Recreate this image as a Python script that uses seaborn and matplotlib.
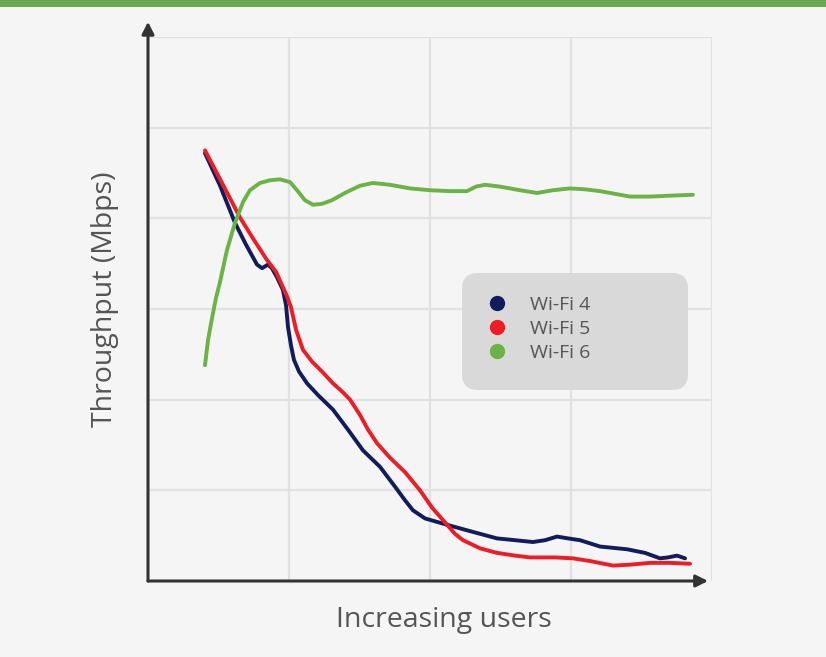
import numpy as np
import pandas as pd
import matplotlib
matplotlib.use("Agg")
import matplotlib.pyplot as plt
from matplotlib.patches import FancyBboxPatch, Rectangle
from matplotlib.lines import Line2D
import seaborn as sns

# ---- data (x = users, y = throughput, arbitrary units) ----
wifi4_x = [4.04, 5.11, 6.17, 6.95, 7.73, 8.09, 8.51, 8.79, 9.15, 9.57, 9.79, 9.93, 10.14,
           10.35, 10.71, 11.28, 12.06, 13.12, 14.18, 15.25, 16.45, 17.52, 18.23, 18.79,
           19.65, 21.21, 22.84, 24.75, 26.03, 27.30, 28.16, 29.01, 29.79, 30.64, 32.06,
           33.97, 35.25, 36.31, 36.88, 37.52, 38.09]
wifi4_y = [472, 436, 395, 371, 349, 345, 349, 345, 335, 321, 304, 280, 260,
           244, 231, 218, 205, 189, 167, 144, 126, 104, 89, 78,
           69, 62, 55, 47, 45, 43, 45, 49, 47, 45, 38,
           35, 31, 25, 26, 28, 25]

wifi5_x = [4.04, 5.25, 6.52, 7.52, 8.44, 9.08, 9.57, 9.86, 10.14, 10.50, 10.99, 11.63,
           12.34, 13.12, 13.83, 14.33, 15.04, 15.60, 16.24, 17.16, 18.23, 19.29, 20.14,
           21.21, 21.77, 22.34, 23.55, 24.75, 26.03, 27.09, 28.87, 30.14, 31.35, 32.98,
           34.18, 35.60, 37.02, 38.44]
wifi5_y = [475, 439, 401, 376, 354, 341, 324, 314, 302, 277, 255, 242,
           231, 218, 208, 200, 183, 167, 152, 136, 120, 100, 81,
           62, 52, 45, 36, 31, 28, 26, 26, 25, 22, 17,
           18, 20, 20, 19]

wifi6_x = [4.04, 4.26, 4.54, 4.82, 5.11, 5.60, 6.17, 6.74, 7.23, 7.94, 8.65, 9.36, 10.07,
           10.57, 11.13, 11.70, 12.34, 13.05, 13.97, 15.04, 15.96, 17.16, 18.58, 20.00,
           21.42, 22.62, 23.26, 23.90, 24.96, 26.38, 27.59, 28.72, 29.93, 30.99, 32.06,
           33.12, 34.18, 35.60, 37.02, 38.65]
wifi6_y = [238, 266, 290, 312, 330, 365, 395, 418, 431, 439, 442, 443, 440,
           431, 420, 415, 416, 420, 428, 436, 439, 437, 433, 431,
           430, 430, 435, 437, 435, 431, 428, 431, 433, 432, 430,
           427, 424, 424, 425, 426]

series_names = ["Wi-Fi 4", "Wi-Fi 5", "Wi-Fi 6"]
series_colors = ["#101c5c", "#ee1c25", "#6ab344"]
x_label = "Increasing users"
y_label = "Throughput (Mbps)"

df = pd.concat([
    pd.DataFrame({"users": wifi4_x, "throughput": wifi4_y, "series": series_names[0]}),
    pd.DataFrame({"users": wifi5_x, "throughput": wifi5_y, "series": series_names[1]}),
    pd.DataFrame({"users": wifi6_x, "throughput": wifi6_y, "series": series_names[2]}),
])

bg = "#f5f5f5"
text_color = "#555555"
sns.set_theme(style="white")
plt.rcParams["font.family"] = ["Open Sans", "DejaVu Sans"]

fig = plt.figure(figsize=(8.26, 6.57), dpi=100, facecolor=bg)
ax = fig.add_axes([148 / 826, 1 - 581 / 657, 564 / 826, 544 / 657])
ax.set_facecolor(bg)

# top green band
fig.patches.append(Rectangle((0, 1 - 7 / 657), 1, 7 / 657, transform=fig.transFigure,
                             facecolor="#6aa84f", edgecolor="none", zorder=0))

sns.lineplot(data=df, x="users", y="throughput", hue="series", palette=series_colors,
             hue_order=series_names, estimator=None, sort=False, linewidth=2.8,
             legend=False, ax=ax, solid_joinstyle="round", solid_capstyle="round")

ax.set_xlim(0, 40)
ax.set_ylim(0, 600)
ax.set_xticks([10, 20, 30, 40])
ax.set_yticks([100, 200, 300, 400, 500, 600])
ax.grid(True, color="#e1e1e1", linewidth=1.6)
ax.tick_params(length=0, labelbottom=False, labelleft=False)
for s in ax.spines.values():
    s.set_visible(False)
ax.set_xlabel("")
ax.set_ylabel("")

# arrow axes
arrow_kw = dict(arrowstyle="-|>,head_length=0.6,head_width=0.3", color="#333333", lw=2.2,
                shrinkA=0, shrinkB=0)
ax.annotate("", xy=(0, 1.028), xytext=(0, 0), xycoords="axes fraction",
            arrowprops=arrow_kw, annotation_clip=False)
ax.annotate("", xy=(0.993, 0), xytext=(0, 0), xycoords="axes fraction",
            arrowprops=arrow_kw, annotation_clip=False)

fig.text(444 / 826, 1 - 620 / 657, x_label, ha="center", va="center",
         fontsize=20.5, color=text_color)
fig.text(105 / 826, 1 - 299 / 657, y_label, ha="center", va="center", rotation=90,
         fontsize=20.5, color=text_color)

# legend box
box = FancyBboxPatch((4.62, (657 - 390) / 100), 2.26, 1.17,
                     boxstyle="round,pad=0,rounding_size=0.16",
                     transform=fig.dpi_scale_trans, facecolor="#d9d9d9",
                     edgecolor="none", zorder=5)
fig.patches.append(box)
handles = [Line2D([], [], linestyle="none", marker="o", markersize=10,
                  markerfacecolor=c, markeredgecolor=c) for c in series_colors]
leg = fig.legend(handles, series_names, loc="center left",
                 bbox_to_anchor=(487 / 826, 1 - 329 / 657), frameon=False,
                 fontsize=14, handlelength=1.0, handletextpad=1.2, borderpad=0,
                 borderaxespad=0, labelspacing=0.3, labelcolor=text_color)
leg.set_zorder(6)

fig.savefig("out.png", dpi=100, facecolor=bg)
